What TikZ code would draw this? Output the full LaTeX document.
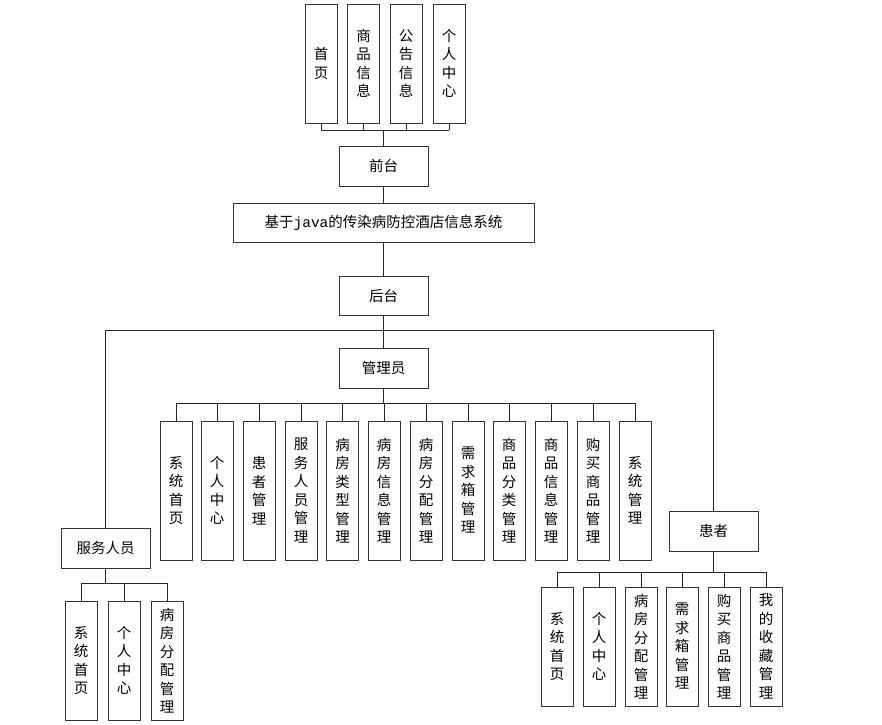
\documentclass[tikz,border=0pt]{standalone}
\usepackage{fontspec}
\setmainfont{Noto Sans CJK SC}
\newfontfamily\javafont{Liberation Mono}
\begin{document}
\begin{tikzpicture}[x=1pt,y=-1pt,
  box/.style={draw=black!80,line width=0.9pt,minimum width=89pt,minimum height=40pt,inner sep=0pt,font=\fontsize{14.5}{16}\selectfont},
  vbox/.style={draw=black!80,line width=0.9pt,minimum width=32pt,inner sep=0pt,align=center,font=\fontsize{14.5}{18.5}\selectfont},
  conn/.style={draw=black!85,line width=0.8pt}]
\useasboundingbox (0,0) rectangle (882,724);
% top
\node[vbox,minimum height=119pt] (sy) at (321,63.5) {首\\页};
\node[vbox,minimum height=119pt] (spxx) at (363.5,63.5) {商\\品\\信\\息};
\node[vbox,minimum height=119pt] (ggxx) at (406,63.5) {公\\告\\信\\息};
\node[vbox,minimum height=119pt] (grzx) at (449,63.5) {个\\人\\中\\心};
\node[box] (qt) at (383.5,166) {前台};
\node[box,minimum width=301pt,minimum height=39pt] (sys) at (383.5,222.5) {基于{\javafont java}的传染病防控酒店信息系统};
\node[box,minimum height=39pt] (ht) at (383.5,295.5) {后台};
\node[box] (gly) at (383.5,368) {管理员};
\node[box] (fwry) at (105.5,548) {服务人员};
\node[box] (hz) at (713.5,531) {患者};
\coordinate (b1) at (383.5,130);
\coordinate (b2) at (383.5,330);
\coordinate (b3) at (383.5,403);
\coordinate (b4) at (105.5,583);
\coordinate (b5) at (713.5,572);
% admin children
\foreach \n/\x/\t in {a1/176/系\\统\\首\\页, a2/217/个\\人\\中\\心, a3/259/患\\者\\管\\理, a4/301/服\\务\\人\\员\\管\\理, a5/342.5/病\\房\\类\\型\\管\\理, a6/384/病\\房\\信\\息\\管\\理, a7/426/病\\房\\分\\配\\管\\理, a8/468/需\\求\\箱\\管\\理, a9/509/商\\品\\分\\类\\管\\理, a10/551/商\\品\\信\\息\\管\\理, a11/593/购\\买\\商\\品\\管\\理, a12/635/系\\统\\管\\理}{
  \node[vbox,minimum height=139pt] (\n) at (\x,490.5) {\t};
  \draw[conn] (\n.north) -- (\n.north |- b3);
}
\draw[conn] (a1.north |- b3) -- (a12.north |- b3);
% service children
\foreach \n/\x/\t in {s1/81/系\\统\\首\\页, s2/124/个\\人\\中\\心, s3/167/病\\房\\分\\配\\管\\理}{
  \node[vbox,minimum height=119pt] (\n) at (\x,660.5) {\t};
  \draw[conn] (\n.north) -- (\n.north |- b4);
}
\draw[conn] (s1.north |- b4) -- (s3.north |- b4);
% patient children
\foreach \n/\x/\t in {p1/557/系\\统\\首\\页, p2/599/个\\人\\中\\心, p3/641/病\\房\\分\\配\\管\\理, p4/682/需\\求\\箱\\管\\理, p5/724/购\\买\\商\\品\\管\\理, p6/766/我\\的\\收\\藏\\管\\理}{
  \node[vbox,minimum height=119pt] (\n) at (\x,646.5) {\t};
  \draw[conn] (\n.north) -- (\n.north |- b5);
}
\draw[conn] (p1.north |- b5) -- (p6.north |- b5);
% top connectors
\foreach \n in {sy,spxx,ggxx,grzx}{
  \draw[conn] (\n.south) -- (\n.south |- b1);
}
\draw[conn] (sy.south |- b1) -- (grzx.south |- b1);
\draw[conn] (b1) -- (qt.north);
\draw[conn] (qt.south) -- (sys.north);
\draw[conn] (sys.south) -- (ht.north);
\draw[conn] (ht.south) -- (gly.north);
\draw[conn] (gly.south) -- (b3);
\draw[conn] (fwry.north) |- (b2) -| (hz.north);
\draw[conn] (fwry.south) -- (b4);
\draw[conn] (hz.south) -- (b5);
\end{tikzpicture}
\end{document}
